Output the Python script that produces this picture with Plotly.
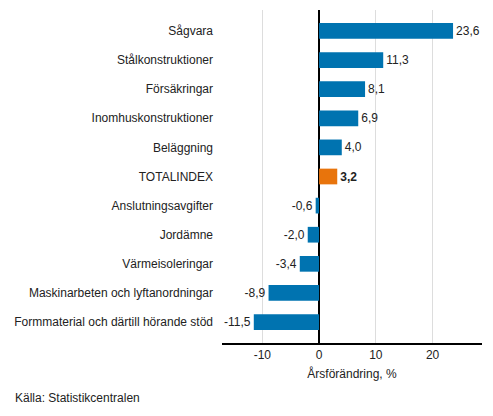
import plotly.graph_objects as go

# Data
categories = ["Sågvara", "Stålkonstruktioner", "Försäkringar", "Inomhuskonstruktioner",
              "Beläggning", "TOTALINDEX", "Anslutningsavgifter", "Jordämne",
              "Värmeisoleringar", "Maskinarbeten och lyftanordningar",
              "Formmaterial och därtill hörande stöd"]
values = [23.6, 11.3, 8.1, 6.9, 4.0, 3.2, -0.6, -2.0, -3.4, -8.9, -11.5]
tick_vals = [-10, 0, 10, 20]
tick_text = ["-10", "0", "10", "20"]

blue = "#0073b0"
orange = "#e8740c"
colors = [orange if c == "TOTALINDEX" else blue for c in categories]
labels = []
for c, v in zip(categories, values):
    s = f"{v:.1f}".replace(".", ",")
    labels.append(f"<b>{s}</b>" if c == "TOTALINDEX" else s)

fig = go.Figure()
fig.add_trace(go.Bar(
    x=values,
    y=categories,
    orientation="h",
    width=0.54,
    marker=dict(color=colors, line=dict(width=0)),
    text=labels,
    textposition="outside",
    textfont=dict(size=12, color="#222"),
    cliponaxis=False,
    hoverinfo="skip",
))

# page body has an 8px margin, so the figure is 8px smaller on each side
fig.update_layout(
    width=485, height=408,
    margin=dict(l=214, r=11, t=2, b=73),
    paper_bgcolor="white", plot_bgcolor="white",
    font=dict(family="Liberation Sans, Arial, sans-serif", size=12, color="#222"),
    showlegend=False,
)
fig.update_xaxes(
    range=[-17.1, 28.7],
    tickvals=tick_vals, ticktext=tick_text,
    showgrid=True, gridcolor="#dddddd", gridwidth=1,
    zeroline=True, zerolinecolor="black", zerolinewidth=1.5,
    showline=True, linecolor="black", linewidth=1.5,
    ticks="", tickfont=dict(size=12, color="#222"),
    title=dict(text="Årsförändring, %", font=dict(size=12, color="#222"), standoff=8),
)
fig.update_yaxes(
    autorange=False, range=[10.72, -0.72],
    showgrid=False, zeroline=False, showline=False,
    ticks="", ticklabelstandoff=8,
    tickfont=dict(size=12, color="#222"),
)
fig.add_annotation(
    text="Källa: Statistikcentralen", xref="paper", yref="paper",
    x=-209 / 260, y=-55 / 333, xanchor="left", yanchor="middle",
    showarrow=False, font=dict(size=12, color="#222"),
)

fig.write_html("out.html")
